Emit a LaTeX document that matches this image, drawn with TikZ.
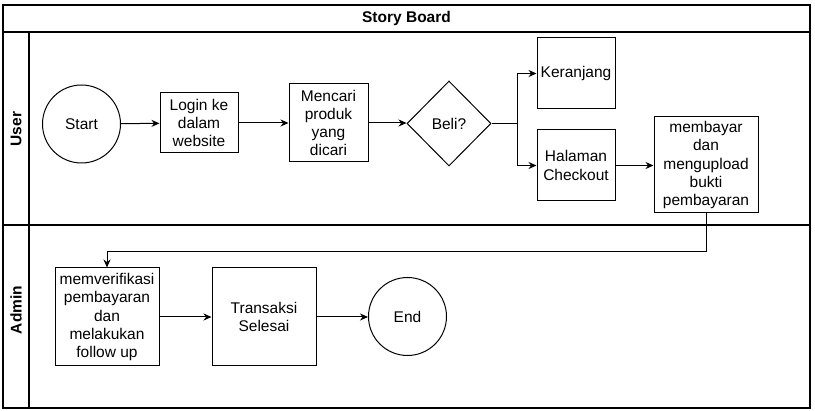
\documentclass[tikz,border=0pt]{standalone}
\usepackage{fontspec}
\setmainfont{Liberation Sans}
\usetikzlibrary{shapes.geometric,arrows.meta}
\begin{document}
\begin{tikzpicture}[x=1pt,y=-1pt,
  every node/.style={font=\fontsize{15.5}{18.2}\selectfont, align=center, inner sep=0pt},
  box/.style={draw, line width=1pt, rectangle},
  term/.style={draw, line width=1pt, circle},
  decision/.style={draw, line width=1pt, diamond, minimum width=84pt, minimum height=85pt},
  lane/.style={font=\fontsize{15.5}{18}\selectfont\bfseries, rotate=90},
  conn/.style={line width=1pt, -{Stealth[length=8pt,width=7pt]}},
  frame/.style={line width=1.2pt}]
\useasboundingbox (0,0) rectangle (815,411);
\draw[frame, fill=white] (3,5) rectangle (810,408);
\draw[frame] (3,32) -- (810,32);
\draw[frame] (3,225) -- (810,225);
\draw[frame] (29,32) -- (29,408);
\node[font=\fontsize{15.5}{18}\selectfont\bfseries] (title) at (406.5,18.5) {Story Board};
\node[lane] (luser) at (16,129) {User};
\node[lane] (ladmin) at (16,310) {Admin};

\node[term, minimum size=78pt] (start) at (81.5,124) {Start};
\node[box, minimum width=78pt, minimum height=60pt] (login) at (199,123) {Login ke\\dalam\\website};
\node[box, minimum width=79pt, minimum height=78pt] (cari) at (328.5,123) {Mencari\\produk\\yang\\dicari};
\node[decision] (beli) at (449,123.5) {Beli?};
\node[box, minimum width=78pt, minimum height=71pt] (keranjang) at (576,73.5) {Keranjang};
\node[box, minimum width=78pt, minimum height=71pt] (checkout) at (576,165.5) {Halaman\\Checkout};
\node[box, minimum width=104pt, minimum height=96pt] (bayar) at (706,165) {membayar\\dan\\mengupload\\bukti\\pembayaran};
\node[box, minimum width=104pt, minimum height=98pt] (verif) at (107,317) {memverifikasi\\pembayaran\\dan\\melakukan\\follow up};
\node[box, minimum width=104pt, minimum height=98pt] (trans) at (264,317) {Transaksi\\Selesai};
\node[term, minimum size=78pt] (end) at (407.5,316.5) {End};

\coordinate (split) at (517,123.5);
\coordinate (down) at (706,252);

\draw[conn] (start) -- (login);
\draw[conn] (login.east) -- (login.east -| cari.west);
\draw[conn] (cari.east) -- (cari.east -| beli.west);
\draw[line width=1pt] (beli.east) -- (split);
\draw[conn] (split) |- (keranjang.west);
\draw[conn] (split) |- (checkout.west);
\draw[conn] (checkout.east) -- (checkout.east -| bayar.west);
\draw[conn] (bayar.south) -- (down) -| (verif.north);
\draw[conn] (verif.east) -- (verif.east -| trans.west);
\draw[conn] (trans.east) -- (trans.east -| end.west);
\end{tikzpicture}
\end{document}
